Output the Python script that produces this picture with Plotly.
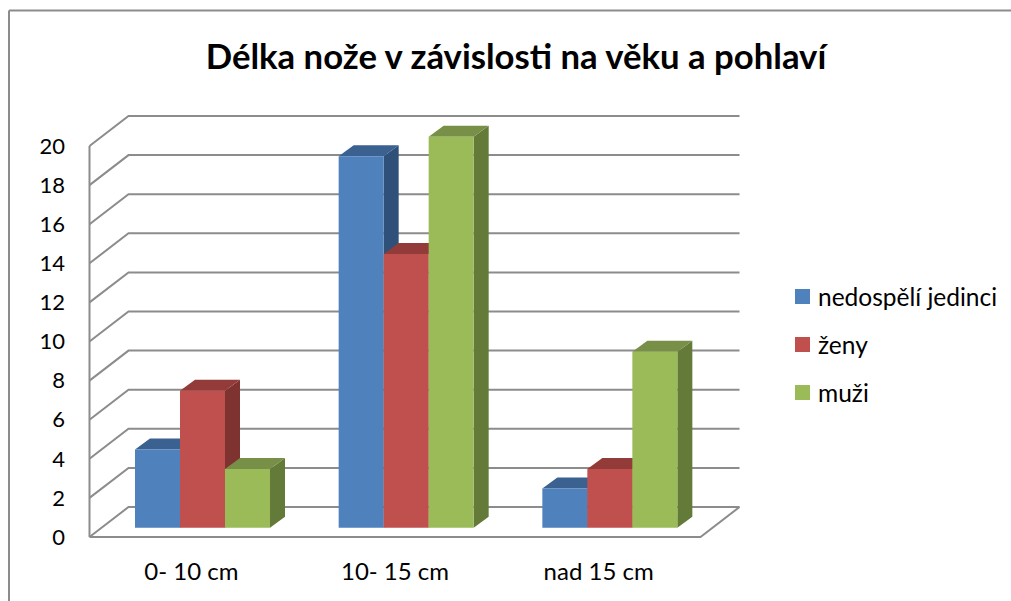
import plotly.graph_objects as go

categories = ["0- 10 cm", "10- 15 cm", "nad 15 cm"]
series_names = ["nedospělí jedinci", "ženy", "muži"]
nedospeli = [4, 19, 2]
zeny = [7, 14, 3]
muzi = [3, 20, 9]
y_ticks = [0, 2, 4, 6, 8, 10, 12, 14, 16, 18, 20]

series_values = [nedospeli, zeny, muzi]
front_colors = ["#4F81BD", "#C0504D", "#9BBB59"]
top_colors = ["#3A6190", "#933B39", "#778F46"]
side_colors = ["#2F5179", "#7E3331", "#647A38"]
grid_color = "#8C8C8C"

W, H = 1011, 601
# pixel scale of the fake 3D box
PX_X = 203.67   # one category
PX_Y = 19.55    # one value unit
X0_PX, Y0_PX = 89.5, 537.0   # front plane origin

# plot area a little bigger than the box so the lines are not clipped
AREA_L, AREA_R, AREA_T, AREA_B = 85.0, 743.0, 112.0, 541.0
x_range = [-0.5 + (AREA_L - X0_PX) / PX_X, -0.5 + (AREA_R - X0_PX) / PX_X]
y_range = [(Y0_PX - AREA_B) / PX_Y, (Y0_PX - AREA_T) / PX_Y]

# depth of the wall and of the bars, in axis units
WALL_DX, WALL_DY = 39.0 / PX_X, 30.0 / PX_Y
BAR_DX, BAR_DY = 15.0 / PX_X, 11.0 / PX_Y
BAR_BASE = 9.3 / PX_Y
BAR_W = 45.0 / PX_X
BAR_START = -0.2766

x_right = len(categories) - 0.5
x_left = -0.5

fig = go.Figure()


def line(xs, ys):
    fig.add_trace(go.Scatter(
        x=xs, y=ys, mode="lines", line=dict(color=grid_color, width=2),
        showlegend=False, hoverinfo="skip"
    ))


def poly(xs, ys, color):
    fig.add_trace(go.Scatter(
        x=xs, y=ys, mode="lines", fill="toself", fillcolor=color,
        line=dict(width=0), showlegend=False, hoverinfo="skip"
    ))


# Steny: diagonala a vodorovna cara pro kazdy tick
for t in y_ticks:
    line([x_left, x_left + WALL_DX, x_right + WALL_DX],
         [t, t + WALL_DY, t + WALL_DY])
line([x_left, x_left], [0, y_ticks[-1]])
line([x_left, x_right, x_right + WALL_DX], [0, 0, WALL_DY])

# Horni a bocni steny sloupcu (pod predni stenou)
for c in range(len(categories)):
    for s, vals in enumerate(series_values):
        left = c + BAR_START + s * BAR_W
        right = left + BAR_W
        top = BAR_BASE + vals[c]
        poly([right, right + BAR_DX, right + BAR_DX, right],
             [BAR_BASE, BAR_BASE + BAR_DY, top + BAR_DY, top], side_colors[s])
        poly([left, left + BAR_DX, right + BAR_DX, right],
             [top, top + BAR_DY, top + BAR_DY, top], top_colors[s])

# Predni steny jsou opravdove sloupce na prekryte ose
for s, vals in enumerate(series_values):
    fig.add_trace(go.Bar(
        x=[c + BAR_START + (s + 0.5) * BAR_W for c in range(len(categories))],
        y=vals, base=BAR_BASE, width=BAR_W, name=series_names[s],
        marker=dict(color=front_colors[s], line=dict(width=0)),
        xaxis="x2", yaxis="y2", showlegend=False
    ))

# Legenda: ctverecek a text, plotly legenda ma moc velkou mezeru
legend_y = [296.5, 344.5, 392.5]
for s, name in enumerate(series_names):
    fig.add_shape(type="rect", xref="paper", yref="paper",
                  x0=795 / W, x1=810 / W,
                  y0=1 - (legend_y[s] + 7.5) / H, y1=1 - (legend_y[s] - 7.5) / H,
                  fillcolor=front_colors[s], line=dict(width=0))
    fig.add_annotation(text=name, xref="paper", yref="paper", x=816 / W,
                       y=1 - legend_y[s] / H, xanchor="left", yanchor="middle",
                       showarrow=False, font=dict(family="Lato", size=24.5))

frame = dict(color=grid_color, width=2)
fig.add_shape(type="line", xref="paper", yref="paper", x0=9 / W, x1=1,
              y0=1 - 10.5 / H, y1=1 - 10.5 / H, line=frame)
fig.add_shape(type="line", xref="paper", yref="paper", x0=9 / W, x1=9 / W,
              y0=0, y1=1 - 10.5 / H, line=frame)

x_domain = [AREA_L / W, AREA_R / W]
y_domain = [1 - AREA_B / H, 1 - AREA_T / H]

fig.update_layout(
    width=W, height=H, autosize=False, barmode="overlay", showlegend=False,
    margin=dict(l=0, r=0, t=0, b=0, autoexpand=False),
    paper_bgcolor="white", plot_bgcolor="white",
    font=dict(family="Lato", size=22, color="#000000"),
    title=dict(text="<b>Délka nože v závislosti na věku a pohlaví</b>",
               x=516 / W, y=1 - 57 / H, xanchor="center", yanchor="middle",
               font=dict(family="Lato", size=34.7, color="#000000")),
    xaxis=dict(domain=x_domain, range=x_range, showgrid=False, zeroline=False,
               showline=False, ticks="", tickvals=list(range(len(categories))),
               ticktext=categories, ticklabelstandoff=14,
               tickfont=dict(size=24)),
    yaxis=dict(domain=y_domain, range=y_range, showgrid=False, zeroline=False,
               showline=False, ticks="", tickvals=y_ticks, ticklabelstandoff=19),
    xaxis2=dict(domain=x_domain, range=x_range, overlaying="x", visible=False),
    yaxis2=dict(domain=y_domain, range=y_range, overlaying="y", visible=False),
)

# bez okraje stranky, jinak je vse posunute o 8 px
fig.write_html("out.html", config=dict(displayModeBar=False, responsive=False),
               post_script="document.body.style.margin='0';")
